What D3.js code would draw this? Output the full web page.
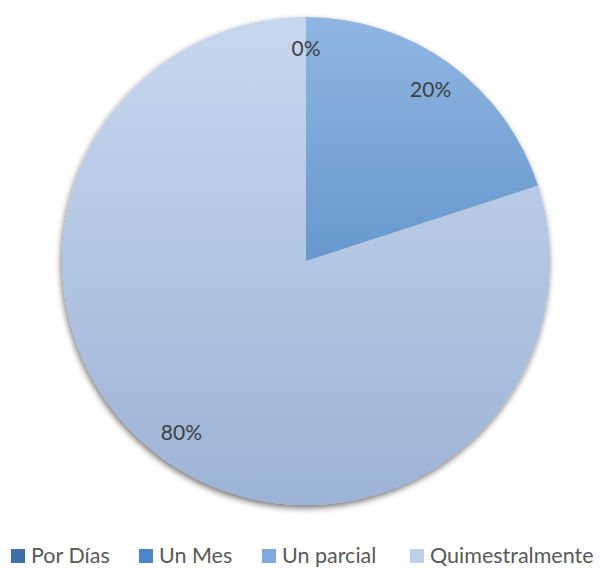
<html>
<head>
<meta charset="utf-8">
<style>
  body { margin: 0; background: white; }
  text { font-family: Lato, "Open Sans", sans-serif; }
</style>
</head>
<body>
<script src="https://d3js.org/d3.v7.min.js"></script>
<script>
var width = 601, height = 568;

// data
var categories = ["Por Días", "Un Mes", "Un parcial", "Quimestralmente"];
var values = [0, 0, 20, 80];
var labels = ["0%", "0%", "20%", "80%"];

// colours: legend swatch, gradient top, gradient bottom
var swatch = ["#3e6fa6", "#4a86c8", "#80a9dc", "#bdcfea"];
var gradTop = ["#5b8ccb", "#6a9ad6", "#90b6e2", "#c7d7ee"];
var gradBot = ["#2f5f96", "#3d74b4", "#6798cd", "#9db3d6"];

var cx = 306, cy = 261, radius = 244;

var svg = d3.select("body").append("svg")
  .attr("width", width)
  .attr("height", height);

var defs = svg.append("defs");

var shadow = defs.append("filter")
  .attr("id", "shadow")
  .attr("x", "-10%").attr("y", "-10%")
  .attr("width", "120%").attr("height", "120%");
shadow.append("feGaussianBlur")
  .attr("in", "SourceAlpha")
  .attr("stdDeviation", 3)
  .attr("result", "blur");
shadow.append("feOffset")
  .attr("in", "blur").attr("dx", -1).attr("dy", 3)
  .attr("result", "off");
shadow.append("feComponentTransfer").attr("in", "off").attr("result", "sh")
  .append("feFuncA").attr("type", "linear").attr("slope", 0.55);
var merge = shadow.append("feMerge");
merge.append("feMergeNode").attr("in", "sh");
merge.append("feMergeNode").attr("in", "SourceGraphic");

var pie = d3.pie().sort(null).value(function(d) { return d; });
var arcs = pie(values);

var arc = d3.arc().innerRadius(0).outerRadius(radius);
var labelArc = d3.arc().innerRadius(212).outerRadius(212);

// vertical gradient over each slice's own box
arcs.forEach(function(d, i) {
  var b = [cy - radius, cy + radius];
  if (d.endAngle <= Math.PI / 2) b = [cy - radius, cy];
  var g = defs.append("linearGradient")
    .attr("id", "grad" + i)
    .attr("gradientUnits", "userSpaceOnUse")
    .attr("x1", 0).attr("y1", b[0] - cy)
    .attr("x2", 0).attr("y2", b[1] - cy);
  g.append("stop").attr("offset", "0%").attr("stop-color", gradTop[i]);
  g.append("stop").attr("offset", "100%").attr("stop-color", gradBot[i]);
});

var chart = svg.append("g")
  .attr("transform", "translate(" + cx + "," + cy + ")");

chart.append("g")
  .attr("filter", "url(#shadow)")
  .selectAll("path")
  .data(arcs)
  .enter()
  .append("path")
    .attr("d", arc)
    .attr("fill", function(d, i) { return "url(#grad" + i + ")"; });

// the two 0% slices share one spot, so draw one label there
chart.selectAll("text.lbl")
  .data(arcs.filter(function(d, i) { return i >= 1; }))
  .enter()
  .append("text")
    .attr("class", "lbl")
    .attr("transform", function(d) { return "translate(" + labelArc.centroid(d) + ")"; })
    .attr("text-anchor", "middle")
    .attr("dy", "0.35em")
    .style("font-size", "21px")
    .style("fill", "#404040")
    .text(function(d) { return labels[d.index]; });

// legend
var legendX = [11, 139, 262, 410];
var legend = svg.append("g").selectAll("g")
  .data(categories)
  .enter()
  .append("g")
    .attr("transform", function(d, i) { return "translate(" + legendX[i] + ",555)"; });

legend.append("rect")
  .attr("x", 0).attr("y", -6)
  .attr("width", 14).attr("height", 14)
  .attr("fill", function(d, i) { return swatch[i]; });

legend.append("text")
  .attr("x", 20)
  .attr("dy", "0.35em")
  .style("font-size", "21.5px")
  .style("fill", "#595959")
  .text(function(d) { return d; });
</script>
</body>
</html>
